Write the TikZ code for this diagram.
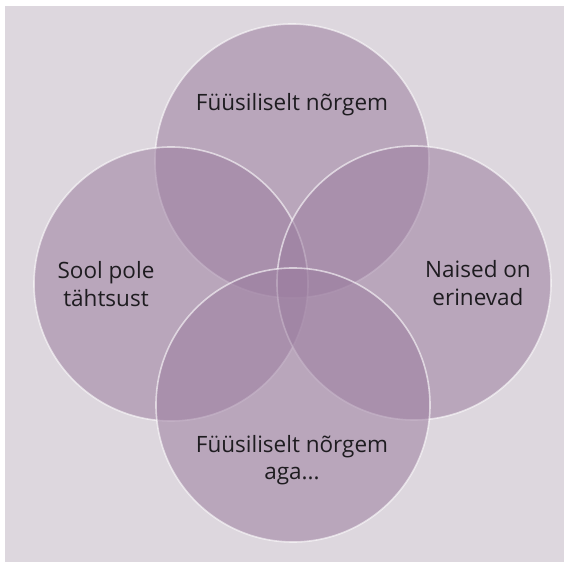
\documentclass[tikz,border=0pt]{standalone}
\usepackage{fontspec}
\setmainfont{Open Sans}
\definecolor{bgc}{RGB}{221,215,222}
\definecolor{circc}{RGB}{156,126,160}
\definecolor{txtc}{RGB}{30,28,32}
\begin{document}
\begin{tikzpicture}[x=1pt,y=1pt,
  bubble/.style={circle, minimum size=274pt, inner sep=0pt, fill=circc, fill opacity=0.55, draw=white, draw opacity=0.6, line width=1.6pt},
  lbl/.style={font=\fontsize{22.5}{27.5}\selectfont, text=txtc, align=center}]
\useasboundingbox (0,0) rectangle (564,562);
\fill[white] (0,0) rectangle (564,562);
\fill[bgc] (5,0) rectangle (564,556);
\node[bubble] (top) at (292,401) {};
\node[bubble] (left) at (171,278) {};
\node[bubble] (right) at (414,279) {};
\node[bubble] (bottom) at (293,157) {};
\node[lbl] (ttop) at (292,457) {Füüsiliselt nõrgem};
\node[lbl] (tleft) at (106,278) {Sool pole\\tähtsust};
\node[lbl] (tright) at (478,279) {Naised on\\erinevad};
\node[lbl] (tbottom) at (292,102) {Füüsiliselt nõrgem\\aga...};
\end{tikzpicture}
\end{document}
